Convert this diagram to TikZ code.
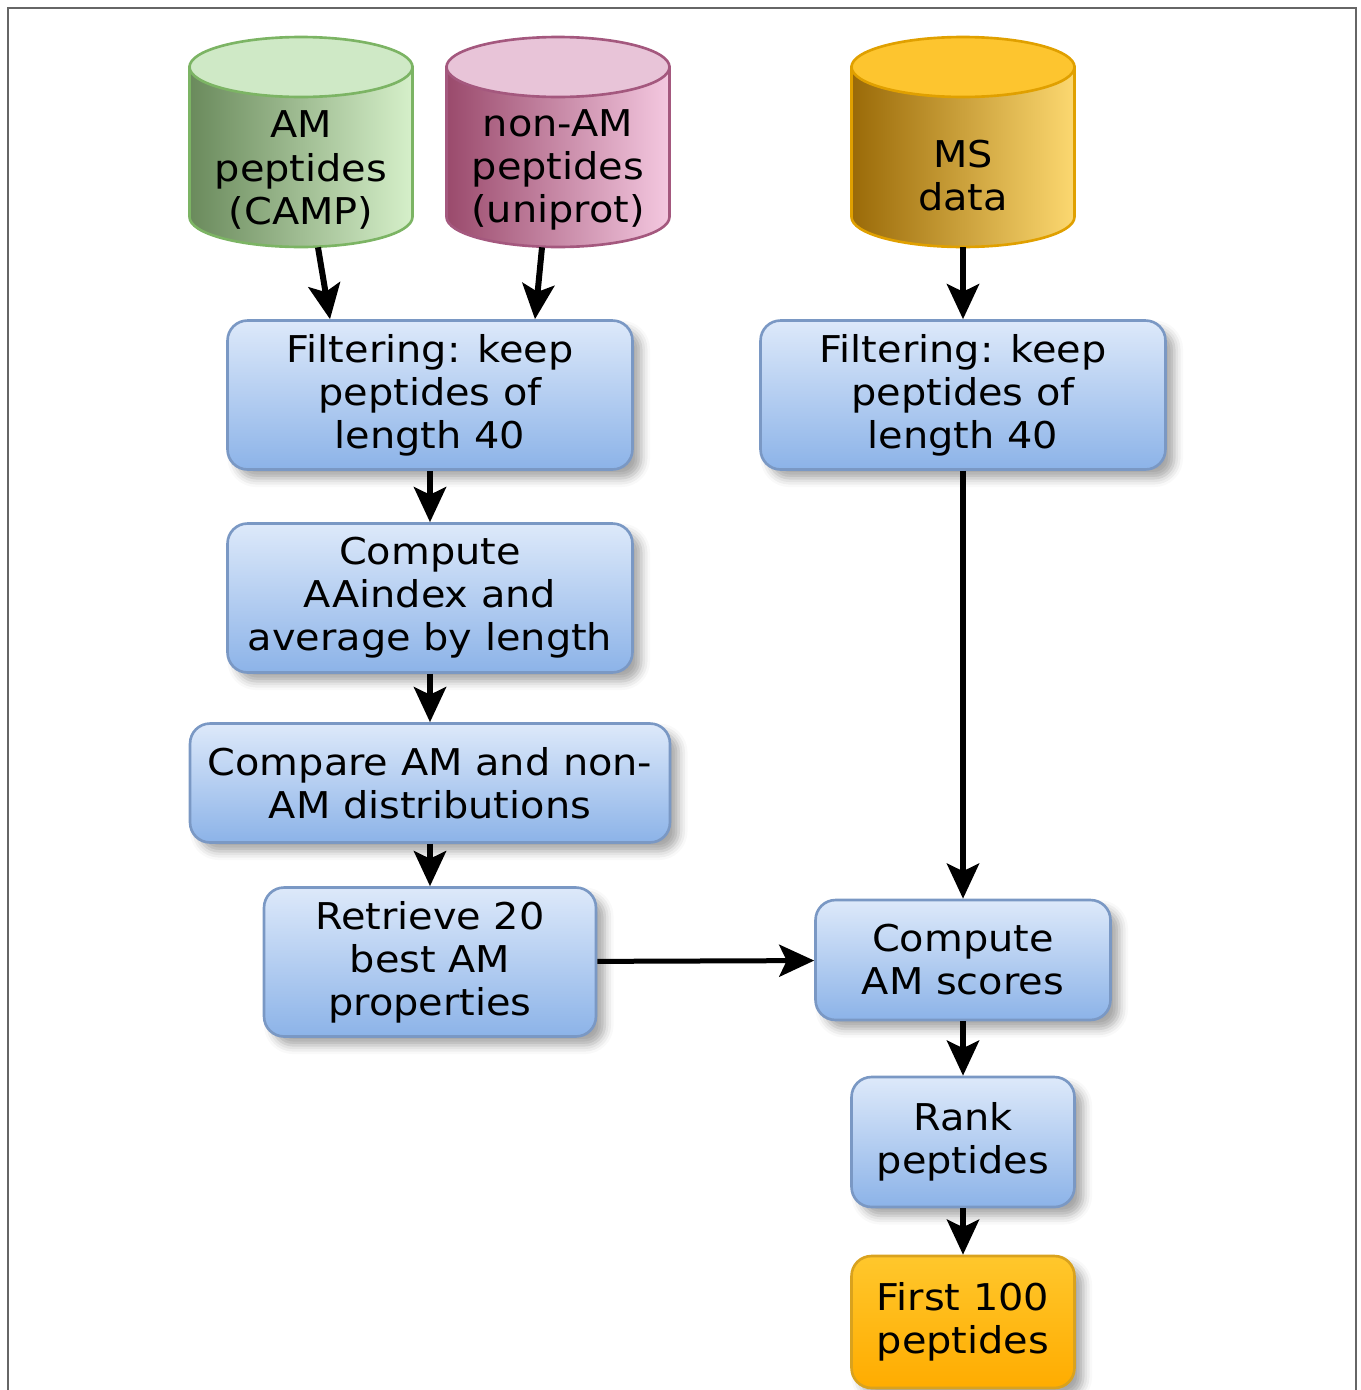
\documentclass[tikz,border=0pt]{standalone}
\usepackage{fontspec}
\setmainfont{DejaVu Sans}[FakeStretch=1.08]
\usetikzlibrary{arrows.meta,shadows.blur}

\definecolor{boxtop}{HTML}{DDE9FA}
\definecolor{boxbot}{HTML}{8CB3E8}
\definecolor{boxedge}{HTML}{7A98C4}
\definecolor{goldtop}{HTML}{FFC72C}
\definecolor{goldbot}{HTML}{FFAC00}
\definecolor{goldedge}{HTML}{D9A21E}
\definecolor{amdark}{HTML}{6A8A5C}
\definecolor{amlight}{HTML}{D6F0CA}
\definecolor{amedge}{HTML}{7CB464}
\definecolor{amtop}{HTML}{CFE9C6}
\definecolor{nondark}{HTML}{9A4A6C}
\definecolor{nonlight}{HTML}{F4C8E0}
\definecolor{nonedge}{HTML}{A4587E}
\definecolor{nontop}{HTML}{E8C4D8}
\definecolor{msdark}{HTML}{9A6A08}
\definecolor{mslight}{HTML}{FCD870}
\definecolor{msedge}{HTML}{E0A000}
\definecolor{mstop}{HTML}{FDC52F}

% database drum: centre x, top y, dark, light, edge, lid
\newcommand{\dbcyl}[6]{%
    \path[left color=#3, right color=#4, draw=#5, line width=1.5pt]
        (#1-111.5,#2+30) -- (#1-111.5,#2+180)
        arc[start angle=180, end angle=360, x radius=2.23cm, y radius=0.6cm]
        -- (#1+111.5,#2+30) -- cycle;
    \path[fill=#6, draw=#5, line width=1.5pt]
        (#1,#2+30) ellipse [x radius=2.23cm, y radius=0.6cm];
}

\begin{document}
\begin{tikzpicture}[x=0.02cm, y=-0.02cm,
        every node/.style={font=\fontsize{21}{24.5}\selectfont, align=center},
        procbox/.style={rectangle, rounded corners=0.4cm, draw=boxedge,
            line width=1.5pt, top color=boxtop, bottom color=boxbot,
            inner sep=2pt,
            blur shadow={shadow xshift=5pt, shadow yshift=-5pt,
                shadow blur radius=5pt, shadow opacity=35}},
        resultbox/.style={procbox, draw=goldedge, top color=goldtop,
            bottom color=goldbot},
        dbtext/.style={minimum width=4.46cm, inner sep=0pt},
        flow/.style={line width=0.12cm,
            -{Stealth[length=0.7cm, width=0.64cm, inset=0.15cm]}}]
        \useasboundingbox (0,0) rectangle (1360,1390);
        \draw[black!60, line width=1.2pt] (8,1390) -- (8,8) -- (1356,8) -- (1356,1390);

        % databases
        \dbcyl{301}{37}{amdark}{amlight}{amedge}{amtop}
        \dbcyl{558}{37}{nondark}{nonlight}{nonedge}{nontop}
        \dbcyl{963}{37}{msdark}{mslight}{msedge}{mstop}
        \node[dbtext, minimum height=3.16cm] (am) at (301,170) {AM\\peptides\\(CAMP)};
        \node[dbtext, minimum height=3.16cm] (nonam) at (558,170) {non-AM\\peptides\\(uniprot)};
        \node[dbtext, minimum height=2.92cm] (ms) at (963,176) {MS\\data};

        % left branch
        \node[procbox, minimum width=8.1cm, minimum height=2.98cm] (filt1) at (430,395)
            {Filtering: keep\\peptides of\\length 40};
        \node[procbox, minimum width=8.1cm, minimum height=2.98cm] (aaidx) at (430,598)
            {Compute\\AAindex and\\average by length};
        \node[procbox, minimum width=9.6cm, minimum height=2.38cm] (cmp) at (430,783)
            {Compare AM and non-\\AM distributions};
        \node[procbox, minimum width=6.64cm, minimum height=2.98cm] (best) at (430,962)
            {Retrieve 20\\best AM\\properties};

        % right branch
        \node[procbox, minimum width=8.1cm, minimum height=2.98cm] (filt2) at (963,395)
            {Filtering: keep\\peptides of\\length 40};
        \node[procbox, minimum width=5.9cm, minimum height=2.4cm] (score) at (963,960)
            {Compute\\AM scores};
        \node[procbox, minimum width=4.46cm, minimum height=2.6cm] (rank) at (963,1142)
            {Rank\\peptides};
        \node[resultbox, minimum width=4.46cm, minimum height=2.64cm] (top) at (963,1322)
            {First 100\\peptides};

        \draw[flow] ([xshift=0.34cm,yshift=0.04cm]am.south) -- ([xshift=-2cm]filt1.north);
        \draw[flow] ([xshift=-0.32cm,yshift=0.04cm]nonam.south) -- ([xshift=2.1cm]filt1.north);
        \draw[flow] ([yshift=0.04cm]ms.south) -- (filt2.north);
        \draw[flow] (filt1) -- (aaidx);
        \draw[flow] (aaidx) -- (cmp);
        \draw[flow] (cmp) -- (best);
        \draw[flow, line width=0.1cm] (best) -- (score);
        \draw[flow] (filt2) -- (score);
        \draw[flow] (score) -- (rank);
        \draw[flow] (rank) -- (top);
\end{tikzpicture}
\end{document}
